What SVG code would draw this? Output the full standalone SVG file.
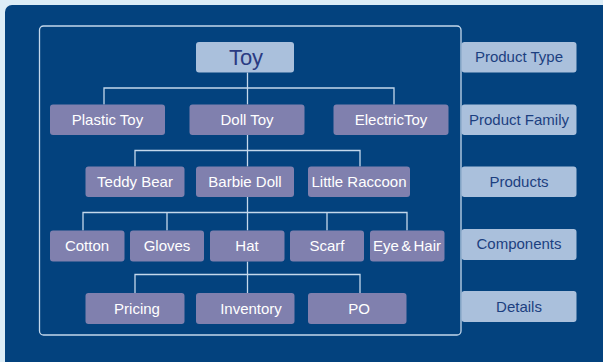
<svg xmlns="http://www.w3.org/2000/svg" width="603" height="362" viewBox="0 0 603 362">
  <style>
    .node rect { fill: #8080ae; }
    .node text { fill: #ffffff; font-family: "Liberation Sans", Arial, sans-serif; font-size: 15px; text-anchor: middle; }
    .level rect { fill: #aac0dc; }
    .level text { fill: #1c3f80; font-family: "Liberation Sans", Arial, sans-serif; font-size: 15px; text-anchor: middle; }
    .root rect { fill: #aac0dc; }
    .root text { fill: #2a3b82; font-family: "Liberation Sans", Arial, sans-serif; font-size: 22px; text-anchor: middle; }
    #connectors path { fill: none; stroke: #c4d8ec; stroke-width: 1.3; }
  </style>

  <!-- page background and panel -->
  <rect x="0" y="0" width="603" height="362" fill="#dcedf7"/>
  <rect x="5" y="5" width="620" height="380" rx="7" fill="#03427e"/>

  <!-- tree frame -->
  <rect x="39.5" y="26" width="421.5" height="309" rx="4" fill="none" stroke="#c4d8ec" stroke-width="1.3"/>

  <!-- connectors -->
  <g id="connectors">
    <path d="M247.5 72.5 V104.5 M104 104.5 V88 H394 V104.5"/>
    <path d="M247.5 135 V166.5 M135 166.5 V150.5 H360 V166.5"/>
    <path d="M247.5 197 V230.5 M83 230.5 V212.5 H407 V230.5 M167 212.5 V230.5 M327 212.5 V230.5"/>
    <path d="M247.5 261.5 V293 M135 293 V274.5 H360 V293"/>
  </g>

  <!-- root -->
  <g id="toy" class="root">
    <rect x="196" y="42" width="98" height="30.5" rx="3"/>
    <text x="246" y="65">Toy</text>
  </g>

  <!-- product families -->
  <g id="plastic-toy" class="node">
    <rect x="50" y="104.5" width="115" height="30.5" rx="3"/>
    <text x="107.5" y="125">Plastic Toy</text>
  </g>
  <g id="doll-toy" class="node">
    <rect x="189.5" y="104.5" width="115" height="30.5" rx="3"/>
    <text x="247" y="125">Doll Toy</text>
  </g>
  <g id="electric-toy" class="node">
    <rect x="333.5" y="104.5" width="115" height="30.5" rx="3"/>
    <text x="391" y="125">ElectricToy</text>
  </g>

  <!-- products -->
  <g id="teddy-bear" class="node">
    <rect x="85.5" y="166.5" width="99" height="30.5" rx="3"/>
    <text x="135" y="187">Teddy Bear</text>
  </g>
  <g id="barbie-doll" class="node">
    <rect x="196" y="166.5" width="98" height="30.5" rx="3"/>
    <text x="245" y="187">Barbie Doll</text>
  </g>
  <g id="little-raccoon" class="node">
    <rect x="308" y="166.5" width="102" height="30.5" rx="3"/>
    <text x="359" y="187">Little Raccoon</text>
  </g>

  <!-- components -->
  <g id="cotton" class="node">
    <rect x="50" y="230.5" width="74.5" height="31" rx="3"/>
    <text x="87" y="251">Cotton</text>
  </g>
  <g id="gloves" class="node">
    <rect x="130" y="230.5" width="74" height="31" rx="3"/>
    <text x="167" y="251">Gloves</text>
  </g>
  <g id="hat" class="node">
    <rect x="210" y="230.5" width="74.5" height="31" rx="3"/>
    <text x="247" y="251">Hat</text>
  </g>
  <g id="scarf" class="node">
    <rect x="290" y="230.5" width="74" height="31" rx="3"/>
    <text x="327" y="251">Scarf</text>
  </g>
  <g id="eye-hair" class="node">
    <rect x="370" y="230.5" width="74.5" height="31" rx="3"/>
    <text x="407" y="251" word-spacing="-1.8">Eye &amp; Hair</text>
  </g>

  <!-- details -->
  <g id="pricing" class="node">
    <rect x="85.5" y="293" width="99" height="31" rx="3"/>
    <text x="137" y="313.5">Pricing</text>
  </g>
  <g id="inventory" class="node">
    <rect x="196" y="293" width="98.5" height="31" rx="3"/>
    <text x="251" y="313.5">Inventory</text>
  </g>
  <g id="po" class="node">
    <rect x="308" y="293" width="98.5" height="31" rx="3"/>
    <text x="359" y="313.5">PO</text>
  </g>

  <!-- level labels -->
  <g id="label-product-type" class="level">
    <rect x="461.5" y="42" width="115" height="30.5" rx="3"/>
    <text x="519" y="62">Product Type</text>
  </g>
  <g id="label-product-family" class="level">
    <rect x="461.5" y="104.5" width="115" height="30.5" rx="3"/>
    <text x="519" y="125">Product Family</text>
  </g>
  <g id="label-products" class="level">
    <rect x="461.5" y="166.5" width="115" height="30.5" rx="3"/>
    <text x="519" y="187">Products</text>
  </g>
  <g id="label-components" class="level">
    <rect x="461.5" y="229" width="115" height="31" rx="3"/>
    <text x="519" y="249">Components</text>
  </g>
  <g id="label-details" class="level">
    <rect x="461.5" y="291" width="115" height="31" rx="3"/>
    <text x="519" y="311.5">Details</text>
  </g>
</svg>
